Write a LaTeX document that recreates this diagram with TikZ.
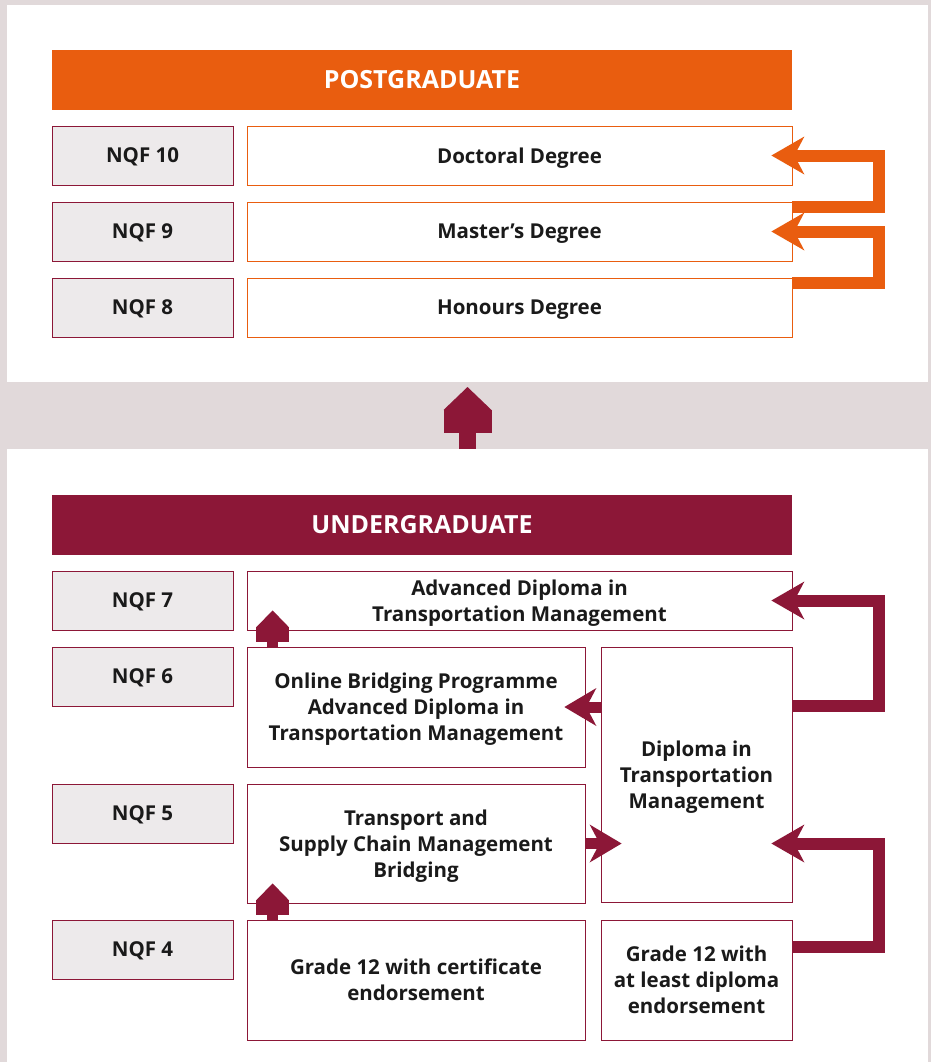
\documentclass[tikz,border=0pt]{standalone}
\usepackage{fontspec}
\setmainfont{Open Sans}
\usetikzlibrary{arrows.meta}
\definecolor{nqforange}{HTML}{E95D0F}
\definecolor{nqfmaroon}{HTML}{8C1737}
\definecolor{nqfback}{HTML}{E1D9DA}
\definecolor{nqfgrey}{HTML}{EDEAEB}
\definecolor{nqftext}{HTML}{1A1A1A}

\tikzset{
  panel/.style={fill=white, inner sep=0pt, outer sep=0pt},
  bar/.style={inner sep=0pt, minimum width=740pt, minimum height=60pt, text=white, font=\bfseries\fontsize{25}{30}\selectfont},
  level/.style={draw=nqfmaroon, fill=nqfgrey, line width=0.8pt, inner sep=0pt, minimum width=181pt, minimum height=59pt, text depth=0pt, text=nqftext, font=\bfseries\fontsize{20.5}{26}\selectfont},
  obox/.style={draw=nqforange, fill=white, line width=0.8pt, inner sep=0pt, minimum width=545pt, minimum height=59pt, text depth=0pt, text=nqftext, font=\bfseries\fontsize{20.5}{26}\selectfont},
  mbox/.style={draw=nqfmaroon, fill=white, line width=0.8pt, inner sep=0pt, align=center, text depth=0pt, text=nqftext, font=\bfseries\fontsize{20.5}{26}\selectfont},
  oloop/.style={draw=nqforange, line width=12pt, -{Stealth[length=33pt,width=38pt,inset=10pt,line width=0pt]}},
  mloop/.style={draw=nqfmaroon, line width=12pt, -{Stealth[length=33pt,width=38pt,inset=10pt,line width=0pt]}},
  sidearr/.style={draw=nqfmaroon, line width=11pt, -{Stealth[length=32pt,width=38pt,inset=10pt,line width=0pt]}},
  uparr/.style={draw=nqfmaroon, line width=11pt, -{Rectangle[length=15pt,width=33pt,sep=0pt,line width=0pt]Triangle[length=17pt,width=33pt,sep=0pt,line width=0pt]}},
  bigarr/.style={draw=nqfmaroon, line width=17pt, -{Rectangle[length=23pt,width=48pt,sep=0pt,line width=0pt]Triangle[length=23pt,width=48pt,sep=0pt,line width=0pt]}}
}

\begin{document}
\begin{tikzpicture}[x=1pt,y=-1pt]
  \fill[nqfback] (0,0) rectangle (931,1062);
  \useasboundingbox (0,0) rectangle (931,1062);

  \node[panel, minimum width=921pt, minimum height=377pt] (uppanel) at (467.5,193.5) {};
  \node[panel, minimum width=921pt, minimum height=613pt] (lowpanel) at (467.5,755.5) {};

  % postgraduate
  \node[bar, fill=nqforange] (post) at (422,80) {POSTGRADUATE};
  \node[level] (nqf10) at (142.5,155.5) {NQF 10};
  \node[level] (nqf9) at (142.5,231.5) {NQF 9};
  \node[level] (nqf8) at (142.5,307.5) {NQF 8};
  \node[obox] (doctoral) at (519.5,155.5) {Doctoral Degree};
  \node[obox] (master) at (519.5,231.5) {Master’s Degree};
  \node[obox] (honours) at (519.5,307.5) {Honours Degree};

  \draw[oloop] ([yshift=-5.5pt]master.north east) -- ++(87,0) |- ([xshift=-21pt]doctoral.east);
  \draw[oloop] ([yshift=-5.5pt]honours.north east) -- ++(87,0) |- ([xshift=-21pt]master.east);

  \draw[bigarr] (lowpanel.north) -- ([yshift=-5pt]uppanel.south);

  % undergraduate
  \node[bar, fill=nqfmaroon] (under) at (422,525) {UNDERGRADUATE};
  \node[level] (nqf7) at (142.5,600.5) {NQF 7};
  \node[level] (nqf6) at (142.5,676.5) {NQF 6};
  \node[level] (nqf5) at (142.5,813.5) {NQF 5};
  \node[level] (nqf4) at (142.5,949.5) {NQF 4};

  \node[mbox, minimum width=545pt, minimum height=59pt] (adv) at (519.5,600.5) {Advanced Diploma in\\Transportation Management};
  \node[mbox, minimum width=338pt, minimum height=120pt] (online) at (416,707) {Online Bridging Programme\\Advanced Diploma in\\Transportation Management};
  \node[mbox, minimum width=191pt, minimum height=255pt] (diploma) at (696.5,774.5) {Diploma in\\Transportation\\Management};
  \node[mbox, minimum width=338pt, minimum height=119pt] (transport) at (416,843.5) {Transport and\\Supply Chain Management\\Bridging};
  \node[mbox, minimum width=338pt, minimum height=120pt] (gradecert) at (416,980) {Grade 12 with certificate\\endorsement};
  \node[mbox, minimum width=191pt, minimum height=120pt] (gradedip) at (696.5,980) {Grade 12 with\\at least diploma\\endorsement};

  \draw[uparr] ([xshift=26pt]online.north west) -- ([xshift=26pt,yshift=20pt]adv.south west);
  \draw[uparr] ([xshift=26pt]gradecert.north west) -- ([xshift=26pt,yshift=20pt]transport.south west);
  \draw[sidearr] (diploma.west |- online.east) -- ([xshift=-21pt]online.east);
  \draw[sidearr] (transport.east) -- ([xshift=21pt]diploma.west |- transport.east);
  \draw[mloop] ([yshift=-59pt]diploma.north east) -- ++(87,0) |- ([xshift=-21pt]adv.east);
  \draw[mloop] ([yshift=-27pt]gradedip.north east) -- ++(87,0) |- ([xshift=-21pt]diploma.east |- transport.east);
\end{tikzpicture}
\end{document}
